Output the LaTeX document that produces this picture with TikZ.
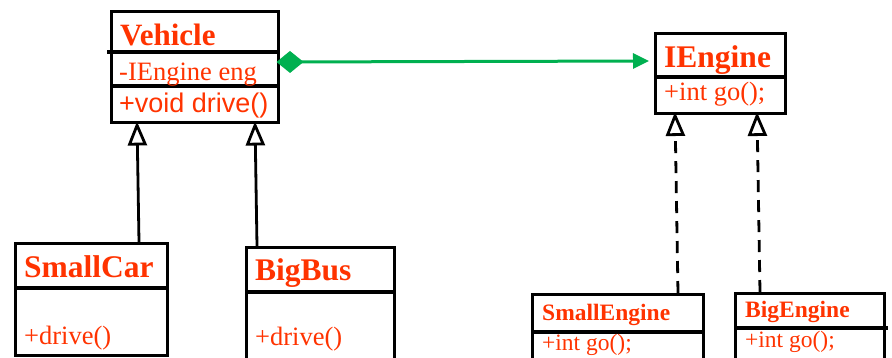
\documentclass[tikz,border=0pt]{standalone}
\usepackage{fontspec}
\setmainfont{Liberation Serif}
\newfontfamily\arialf{Liberation Sans}
\usetikzlibrary{arrows.meta}
\definecolor{umlred}{HTML}{FF3300}
\definecolor{umlgreen}{HTML}{00B050}
\tikzset{
  classbox/.style={draw=black, line width=3pt, inner sep=0pt, anchor=north west},
  sepline/.style={line width=3.2pt},
  titletxt/.style={text=umlred, font=\bfseries\fontsize{31.5}{31.5}\selectfont, inner sep=0pt, anchor=base west},
  smalltitle/.style={text=umlred, font=\bfseries\fontsize{23.5}{24}\selectfont, inner sep=0pt, anchor=base west},
  membertxt/.style={text=umlred, font=\fontsize{26.5}{26.5}\selectfont, inner sep=0pt, anchor=base west},
  smallmember/.style={text=umlred, font=\fontsize{23.5}{24}\selectfont, inner sep=0pt, anchor=base west},
  inherit/.style={line width=2.8pt, -{Triangle[open, length=24pt, width=19pt, line width=2.8pt]}},
  realize/.style={inherit, dash pattern=on 12pt off 8pt},
  compose/.style={draw=umlgreen, line width=3pt, {Diamond[fill=umlgreen, length=27pt, width=22pt]}-{Triangle[fill=umlgreen, length=16pt, width=15pt]}}
}
\begin{document}
\begin{tikzpicture}[x=1pt, y=-1pt]
\useasboundingbox (0,0) rectangle (892,357);
\clip (0,0) rectangle (892,357);

% Vehicle
\node[classbox, minimum width=167pt, minimum height=111pt] (vehicle) at (110,10) {};
\draw[sepline] (107,52) -- (vehicle.east |- 0,52);
\draw[sepline] (vehicle.west |- 0,86) -- (vehicle.east |- 0,86);
\node[titletxt, font=\bfseries\fontsize{31}{31}\selectfont] (vehicleT) at (120,45) {Vehicle};
\node[membertxt] (vehicleA) at (119,80) {-IEngine eng};
\node[membertxt, font=\arialf\fontsize{27}{27}\selectfont] (vehicleM) at (119,112) {+void drive()};

% IEngine
\node[classbox, minimum width=130pt, minimum height=80pt] (iengine) at (654,32) {};
\draw[sepline] (iengine.west |- 0,77) -- (iengine.east |- 0,77);
\node[titletxt] (iengineT) at (664,67) {IEngine};
\node[membertxt] (iengineM) at (664,100) {+int go();};

% SmallCar
\node[classbox, minimum width=152pt, minimum height=112pt] (smallcar) at (14,242) {};
\draw[sepline] (smallcar.west |- 0,288) -- (smallcar.east |- 0,288);
\node[titletxt] (smallcarT) at (24,277) {SmallCar};
\node[membertxt] (smallcarM) at (24,344) {+drive()};

% BigBus
\node[classbox, minimum width=148pt, minimum height=140pt] (bigbus) at (245,246) {};
\draw[sepline] (bigbus.west |- 0,292) -- (bigbus.east |- 0,292);
\node[titletxt] (bigbusT) at (255,280) {BigBus};
\node[membertxt] (bigbusM) at (255,345) {+drive()};

% SmallEngine
\node[classbox, minimum width=171pt, minimum height=100pt] (smallengine) at (531,293) {};
\draw[sepline] (smallengine.west |- 0,332) -- (smallengine.east |- 0,332);
\node[smalltitle] (smallengineT) at (542,320) {SmallEngine};
\node[smallmember] (smallengineM) at (542,350) {+int go();};

% BigEngine
\node[classbox, minimum width=149pt, minimum height=100pt] (bigengine) at (734,292) {};
\draw[sepline] (bigengine.west |- 0,328) -- (888,328);
\node[smalltitle] (bigengineT) at (745,317) {BigEngine};
\node[smallmember] (bigengineM) at (745,347) {+int go();};

% connector end points
\coordinate (vB1) at (137,121.5);
\coordinate (vB2) at (255,121.5);
\coordinate (scTop) at (139,242);
\coordinate (bbTop) at (257,246);
\coordinate (ieB1) at (675,112);
\coordinate (ieB2) at (757,112);
\coordinate (seTop) at (678,293);
\coordinate (beTop) at (760,292);
\coordinate (vR) at (276.5,62);
\coordinate (ieL) at (649,61);

\draw[inherit] (scTop) -- (vB1);
\draw[inherit] (bbTop) -- (vB2);
\draw[realize] (seTop) -- (ieB1);
\draw[realize] (beTop) -- (ieB2);
\draw[compose] (vR) -- (ieL);
\end{tikzpicture}
\end{document}
